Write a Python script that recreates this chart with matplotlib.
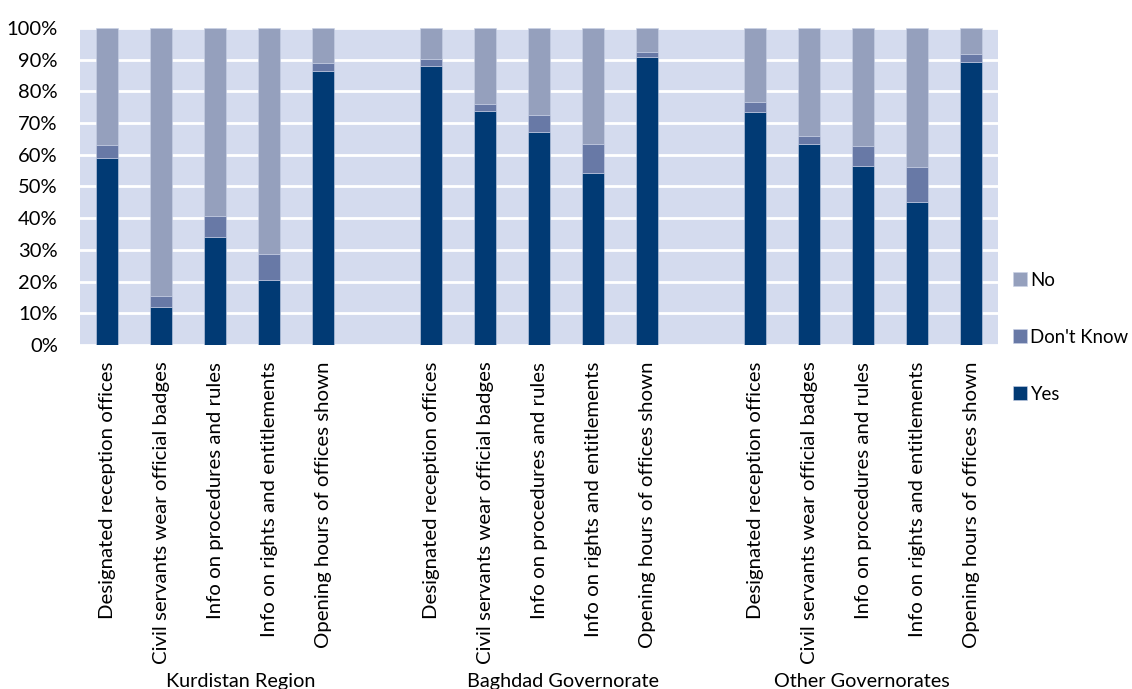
import matplotlib
matplotlib.use("Agg")
import matplotlib.pyplot as plt
import numpy as np

plt.rcParams['font.family'] = ['Lato', 'DejaVu Sans']

items = ["Designated reception offices",
         "Civil servants wear official badges",
         "Info on procedures and rules",
         "Info on rights and entitlements",
         "Opening hours of offices shown"]
groups = ["Kurdistan Region", "Baghdad Governorate", "Other Governorates"]

yes = [[59.0, 12.1, 34.0, 20.6, 86.5],
       [88.1, 73.8, 67.3, 54.4, 91.0],
       [73.6, 63.5, 56.5, 45.2, 89.4]]
dont_know = [[4.1, 3.5, 6.8, 8.2, 2.6],
             [2.2, 2.3, 5.4, 9.1, 1.5],
             [3.2, 2.5, 6.4, 10.8, 2.3]]
no = [[36.9, 84.4, 59.2, 71.2, 10.9],
      [9.7, 23.9, 27.3, 36.5, 7.5],
      [23.2, 34.0, 37.1, 44.0, 8.3]]

c_yes = "#013A74"
c_dk = "#6879A6"
c_no = "#95A0BD"
bg = "#D4DBEE"

fig = plt.figure(figsize=(11.32, 6.89), dpi=100)
ax = fig.add_axes([0.0707, 0.4993, 0.8110, 0.4601])
ax.set_facecolor(bg)

n = len(items)
positions = []
labels = []
Y, D, N = [], [], []
for g in range(len(groups)):
    for i in range(n):
        positions.append(g * (n + 1) + i)
        labels.append(items[i])
        Y.append(yes[g][i]); D.append(dont_know[g][i]); N.append(no[g][i])
positions = np.array(positions)
Y = np.array(Y); D = np.array(D); N = np.array(N)

w = 0.40
ec = dict(edgecolor="#C9D1E6", linewidth=0.4)
b1 = ax.bar(positions, Y, w, color=c_yes, label="Yes", zorder=3, **ec)
b2 = ax.bar(positions, D, w, bottom=Y, color=c_dk, label="Don't Know", zorder=3, **ec)
b3 = ax.bar(positions, N, w, bottom=Y + D, color=c_no, label="No", zorder=3, **ec)

ax.set_xlim(-0.5, 16.5)
ax.set_ylim(0, 100)
ax.set_yticks(np.arange(0, 101, 10))
ax.set_yticklabels([f"{v}%" for v in range(0, 101, 10)])
ax.yaxis.grid(True, color="white", linewidth=2, zorder=1)
ax.set_axisbelow(True)
ax.set_xticks(positions)
ax.set_xticklabels(labels, rotation=90)
ax.tick_params(axis='both', length=0, colors="black")
ax.tick_params(axis='x', pad=12, labelsize=14.7)
ax.tick_params(axis='y', pad=16, labelsize=14.5)
for s in ax.spines.values():
    s.set_visible(False)

group_centers = [2.48, 8.44, 13.98]
for gname, gc in zip(groups, group_centers):
    xf = fig.transFigure.inverted().transform(ax.transData.transform((gc, 0)))[0]
    fig.text(xf, 0.011, gname, ha="center", va="center", fontsize=14.3)

leg = ax.legend(handles=[b3, b2, b1], loc="center left",
                bbox_to_anchor=(1.016, 0.025), frameon=False, fontsize=13.4,
                labelspacing=2.15, handlelength=0.75, handleheight=0.75,
                handletextpad=0.2, borderpad=0, borderaxespad=0)

fig.savefig("out.png", dpi=100)
